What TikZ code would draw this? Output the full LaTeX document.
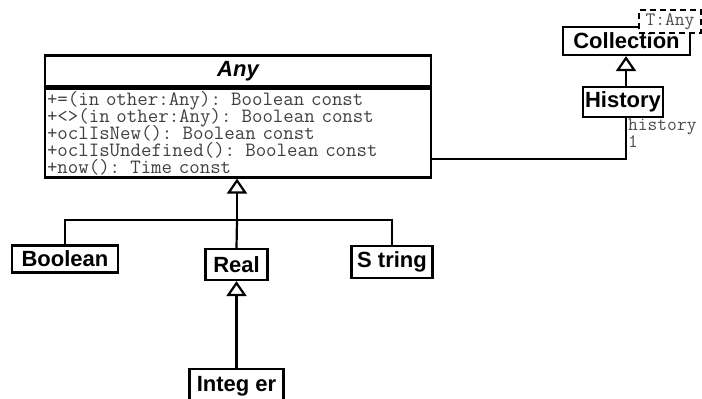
\documentclass[tikz,border=0pt]{standalone}
\usepackage{fontspec}
\newfontfamily\umlsans{Liberation Sans}
\usetikzlibrary{arrows.meta,positioning,calc}
\newcommand{\opsfont}{\ttfamily\fontsize{20.3}{17}\selectfont\setlength{\lineskiplimit}{-20pt}}

\begin{document}
\begin{tikzpicture}[x=1pt, y=-1pt, line width=2.2pt,
	cls/.style={draw, fill=white, inner sep=0pt, font=\umlsans\bfseries\fontsize{22}{24}\selectfont},
	ops/.style={draw, inner xsep=2pt, inner ysep=2.5pt, align=left, text=black!75, font=\opsfont},
	gen/.style={-{Triangle[open, fill=white, length=15pt, width=20pt]}},
	lbl/.style={inner sep=0pt, text=black!70, font=\ttfamily\fontsize{19}{17}\selectfont}]
	\useasboundingbox (0,0) rectangle (702,399);

	% the root class, name part and operations part
	\node ({any}) [cls, minimum width=386pt, minimum height=31pt, font=\umlsans\bfseries\itshape\fontsize{22}{24}\selectfont] at (238,71) {Any};
	\node ({anyops}) [ops, text width=382pt, anchor=north] at (any.south) {+=(in other:Any): Boolean const\\
		+<>(in other:Any): Boolean const\\
		+oclIsNew(): Boolean const\\
		+oclIsUndefined(): Boolean const\\
		+now(): Time const};

	% basic types
	\node ({boolean}) [cls, minimum width=106pt, minimum height=27pt] at (65,259) {Boolean};
	\node ({real}) [cls, minimum width=62pt, minimum height=31pt] at (236.5,264.5) {Real};
	\node ({string}) [cls, minimum width=81pt, minimum height=32pt] at (392,262) {S tring};
	\node ({integer}) [cls, minimum width=94pt, minimum height=34pt] at (236.5,386) {Integ er};

	% collection side
	\node ({collection}) [cls, minimum width=127pt, minimum height=28pt] at (626.5,41) {Collection};
	\node ({tparam}) [draw, dash pattern=on 6pt off 4pt, fill=white, minimum width=62pt, minimum height=23pt, inner sep=0pt, text=black!70, font=\ttfamily\fontsize{19}{17}\selectfont] at (670,21.5) {T:Any};
	\node ({history}) [cls, minimum width=80pt, minimum height=30pt] at (623,102) {History};

	% generalisations
	\coordinate (split) at (237,220);
	\draw (boolean.north) |- (split) -| (string.north);
	\draw (real.north) -- (split);
	\draw [gen] (split) -- (split |- anyops.south);
	\draw [gen] (integer.north) -- (real.south);
	\draw [gen] ([xshift=3pt]history.north) -- ([xshift=3pt]history.north |- collection.south);

	% association with its role and multiplicity
	\draw ([xshift=3pt]history.south) |- ([yshift=-26pt]anyops.east);
	\node ({histrole}) [lbl, anchor=base west] at ([xshift=4pt,yshift=-12pt]history.south) {history};
	\node ({histmult}) [lbl, anchor=base west] at ([yshift=-17pt]histrole.base west) {1};
\end{tikzpicture}
\end{document}
